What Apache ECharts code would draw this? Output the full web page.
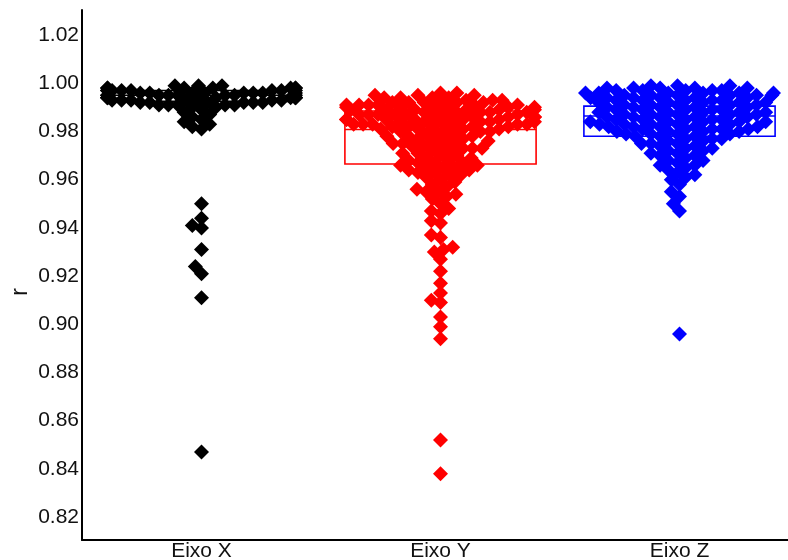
<!DOCTYPE html>
<html>
<head>
<meta charset="utf-8">
<script src="https://cdn.jsdelivr.net/npm/echarts@6/dist/echarts.min.js"></script>
<style>html,body{margin:0;padding:0;background:#fff}#c{width:788px;height:560px}</style>
</head>
<body>
<div id="c"></div>
<script>
const categories = ['Eixo X', 'Eixo Y', 'Eixo Z'];
const colors = ['#000000', '#FF0000', '#0000FF'];
const yTicks = [0.82, 0.84, 0.86, 0.88, 0.90, 0.92, 0.94, 0.96, 0.98, 1.00, 1.02];

const eixoX = [
  0.999, 0.999, 0.999,
  0.998, 0.998, 0.998, 0.998, 0.998, 0.998, 0.998,
  0.997, 0.997, 0.997, 0.997, 0.997, 0.997, 0.997, 0.997,
  0.996, 0.996, 0.996, 0.996, 0.996, 0.996, 0.996, 0.996,
  0.995, 0.995, 0.995, 0.995, 0.995, 0.995, 0.995, 0.995,
  0.994, 0.994, 0.994, 0.994, 0.994, 0.994, 0.994, 0.994,
  0.993, 0.993, 0.993, 0.993, 0.993, 0.993, 0.993,
  0.992, 0.992, 0.992, 0.992, 0.992, 0.992,
  0.991, 0.991, 0.991, 0.991, 0.991,
  0.990, 0.990, 0.989, 0.988, 0.987, 0.986, 0.985, 0.984, 0.983, 0.982, 0.981,
  0.950, 0.944, 0.941, 0.940, 0.931, 0.924, 0.921, 0.911, 0.847
];
const eixoY = [
  0.996, 0.996, 0.995, 0.995, 0.995, 0.994, 0.994, 0.994, 0.994, 0.993, 0.993, 0.993,
  0.992, 0.992, 0.992, 0.992, 0.992, 0.992,
  0.991, 0.991, 0.991, 0.991, 0.991, 0.991,
  0.990, 0.990, 0.990, 0.990, 0.990, 0.990,
  0.989, 0.989, 0.989, 0.989, 0.989, 0.989,
  0.988, 0.988, 0.988, 0.988, 0.988, 0.988,
  0.987, 0.987, 0.987, 0.987, 0.987, 0.987,
  0.986, 0.986, 0.986, 0.986, 0.986, 0.986,
  0.985, 0.985, 0.985, 0.985, 0.985, 0.985,
  0.984, 0.984, 0.984, 0.984, 0.984, 0.984,
  0.983, 0.983, 0.983, 0.983, 0.983, 0.983,
  0.982, 0.982, 0.982, 0.982, 0.982,
  0.981, 0.981, 0.981, 0.981, 0.981,
  0.980, 0.980, 0.980, 0.979, 0.979, 0.979, 0.978, 0.978, 0.978,
  0.977, 0.977, 0.977, 0.976, 0.976, 0.975, 0.975, 0.975,
  0.974, 0.974, 0.974, 0.973, 0.973, 0.973, 0.972, 0.972,
  0.971, 0.971, 0.970, 0.970, 0.969, 0.969,
  0.968, 0.968, 0.967, 0.967, 0.967, 0.966, 0.966, 0.965, 0.965, 0.965,
  0.964, 0.964, 0.963, 0.963, 0.962, 0.962, 0.961, 0.960,
  0.959, 0.958, 0.957, 0.956, 0.955, 0.955, 0.954, 0.953, 0.952, 0.950,
  0.948, 0.947, 0.946, 0.943, 0.942, 0.937, 0.936, 0.932, 0.931, 0.930, 0.927,
  0.922, 0.917, 0.913, 0.910, 0.909, 0.903, 0.899, 0.894, 0.852, 0.838
];
const eixoZ = [
  0.999, 0.999, 0.999,
  0.998, 0.998, 0.998, 0.998, 0.998,
  0.997, 0.997, 0.997, 0.997, 0.997,
  0.996, 0.996, 0.996, 0.996, 0.996, 0.996,
  0.995, 0.995, 0.995, 0.995, 0.995, 0.995,
  0.994, 0.994, 0.994, 0.994, 0.994, 0.994,
  0.993, 0.993, 0.993, 0.993, 0.993,
  0.992, 0.992, 0.992, 0.992, 0.992,
  0.991, 0.991, 0.991, 0.991, 0.991,
  0.990, 0.990, 0.990, 0.990, 0.990,
  0.989, 0.989, 0.989, 0.989, 0.989,
  0.988, 0.988, 0.988, 0.988, 0.988,
  0.987, 0.987, 0.987, 0.987, 0.987,
  0.986, 0.986, 0.986, 0.986, 0.986,
  0.985, 0.985, 0.985, 0.985, 0.985,
  0.984, 0.984, 0.984, 0.984, 0.984,
  0.983, 0.983, 0.983, 0.983, 0.983,
  0.982, 0.982, 0.982, 0.982, 0.982,
  0.981, 0.981, 0.981, 0.981, 0.981,
  0.980, 0.980, 0.980, 0.980, 0.979, 0.979, 0.979, 0.979,
  0.978, 0.978, 0.978, 0.977, 0.977, 0.977, 0.976, 0.976,
  0.975, 0.975, 0.975, 0.974, 0.974, 0.973, 0.973, 0.972, 0.972,
  0.971, 0.971, 0.970, 0.970, 0.969,
  0.968, 0.968, 0.967, 0.966, 0.966, 0.965, 0.964, 0.963, 0.962, 0.961, 0.960,
  0.958, 0.955, 0.953, 0.950, 0.947, 0.896
];
// box stats: [lower whisker, Q1, median, Q3, upper whisker]
const boxX = [0.986, 0.9925, 0.995, 0.997, 0.999];
const boxY = [0.933, 0.9665, 0.9808, 0.9885, 0.996];
const boxZ = [0.961, 0.978, 0.9864, 0.9905, 0.999];

const groups = [eixoX, eixoY, eixoZ];
const boxes = [boxX, boxY, boxZ];

const chart = echarts.init(document.getElementById('c'), null, {renderer: 'canvas'});
const textColor = '#111';
const fontFam = 'Liberation Sans, Arial, sans-serif';
const baseOption = {
  animation: false,
  backgroundColor: '#fff',
  grid: {left: 82, top: 10, width: 717, height: 530, containLabel: false, outerBoundsMode: 'none'},
  xAxis: [
    {
      type: 'category', data: categories, boundaryGap: true,
      axisLine: {show: true, onZero: false, lineStyle: {color: '#000', width: 2}},
      axisTick: {show: false},
      axisLabel: {color: textColor, fontSize: 21, fontFamily: fontFam, margin: 1},
      splitLine: {show: false}
    },
    {
      type: 'value', min: -0.5, max: 2.5, show: false,
      axisLine: {show: false, onZero: false}, splitLine: {show: false}
    }
  ],
  yAxis: {
    type: 'value', min: 0.8105, max: 1.0304,
    name: 'r', nameLocation: 'middle', nameGap: 50, nameRotate: 90, nameMoveOverlap: false,
    nameTextStyle: {color: textColor, fontSize: 23, fontFamily: fontFam, padding: [0, 34, 0, 0]},
    axisLine: {show: true, onZero: false, lineStyle: {color: '#000', width: 2}},
    axisTick: {show: false},
    splitLine: {show: false},
    axisLabel: {
      color: textColor, fontSize: 21, fontFamily: fontFam, margin: 3,
      customValues: yTicks,
      formatter: v => v.toFixed(2)
    }
  },
  series: []
};
chart.setOption(baseOption);

function buildBoxSeries() {
  return boxes.map((b, gi) => ({
    type: 'custom',
    xAxisIndex: 1,
    z: 1,
    silent: true,
    data: [[gi, b[0], b[1], b[2], b[3], b[4]]],
    renderItem: function (params, api) {
      const x = api.value(0);
      const half = api.size([0.8, 0])[0] / 2;
      const pLow = api.coord([x, api.value(1)]);
      const pQ1 = api.coord([x, api.value(2)]);
      const pMed = api.coord([x, api.value(3)]);
      const pQ3 = api.coord([x, api.value(4)]);
      const pHigh = api.coord([x, api.value(5)]);
      const st = {stroke: colors[gi], lineWidth: 1.6, fill: null};
      return {
        type: 'group',
        children: [
          {type: 'line', shape: {x1: pQ1[0], y1: pQ1[1], x2: pLow[0], y2: pLow[1]}, style: st},
          {type: 'line', shape: {x1: pQ3[0], y1: pQ3[1], x2: pHigh[0], y2: pHigh[1]}, style: st},
          {type: 'rect', shape: {x: pQ3[0] - half, y: pQ3[1], width: half * 2, height: pQ1[1] - pQ3[1]}, style: {stroke: colors[gi], lineWidth: 1.6, fill: '#fff'}},
          {type: 'line', shape: {x1: pMed[0] - half, y1: pMed[1], x2: pMed[0] + half, y2: pMed[1]}, style: st}
        ]
      };
    }
  }));
}

// beeswarm layout in pixel space (swarm, ascending priority, gutter corral)
function swarmOffsets(values, d, maxHalf) {
  const py = values.map(v => chart.convertToPixel({yAxisIndex: 0}, v));
  const order = values.map((v, i) => i).sort((a, b) => values[a] - values[b]);
  const placed = [];
  const res = new Array(values.length).fill(0);
  order.forEach(i => {
    const y = py[i];
    const cands = [0];
    placed.forEach(p => {
      const dy = p.y - y;
      if (Math.abs(dy) < d) {
        const dx = Math.sqrt(d * d - dy * dy);
        cands.push(p.x + dx, p.x - dx);
      }
    });
    cands.sort((a, b) => Math.abs(a) - Math.abs(b) || a - b);
    let chosen = 0;
    for (const c of cands) {
      let ok = true;
      for (const p of placed) {
        const dx = p.x - c, dy = p.y - y;
        if (dx * dx + dy * dy < d * d - 0.01) { ok = false; break; }
      }
      if (ok) { chosen = c; break; }
    }
    placed.push({x: chosen, y: y});
    res[i] = chosen;
  });
  return res.map(x => Math.max(-maxHalf, Math.min(maxHalf, x)));
}

const p0 = chart.convertToPixel({xAxisIndex: 1}, 0);
const p1 = chart.convertToPixel({xAxisIndex: 1}, 1);
const pxPerUnit = p1 - p0;

const scatterSeries = groups.map((vals, gi) => {
  const offs = swarmOffsets(vals, 9.5, 94);
  return {
    type: 'scatter',
    xAxisIndex: 1,
    z: 3,
    symbol: 'diamond',
    symbolSize: 15,
    itemStyle: {color: colors[gi], opacity: 1},
    silent: true,
    data: vals.map((v, k) => [gi + offs[k] / pxPerUnit, v])
  };
});

chart.setOption({series: buildBoxSeries().concat(scatterSeries)});
</script>
</body>
</html>
